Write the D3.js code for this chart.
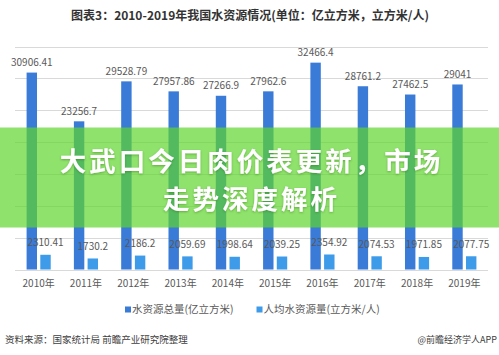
<!DOCTYPE html>
<html><head><meta charset="utf-8">
<script src="https://cdn.jsdelivr.net/npm/d3@7/dist/d3.min.js"></script>
<style>
html,body{margin:0;padding:0;background:#fff;}
svg{display:block;font-family:"Noto Sans CJK SC","Noto Sans",sans-serif;}
</style></head>
<body>
<script>
const years = ["2010年","2011年","2012年","2013年","2014年","2015年","2016年","2017年","2018年","2019年"];
const totalWater = [30906.41,23256.7,29528.79,27957.86,27266.9,27962.6,32466.4,28761.2,27462.5,29041];
const perCapita = [2310.41,1730.2,2186.2,2059.69,1998.64,2039.25,2354.92,2074.53,1971.85,2077.75];
const totalLabels = ["30906.41","23256.7","29528.79","27957.86","27266.9","27962.6","32466.4","28761.2","27462.5","29041"];
const perCapitaLabels = ["2310.41","1730.2","2186.2","2059.69","1998.64","2039.25","2354.92","2074.53","1971.85","2077.75"];
const seriesNames = ["水资源总量(亿立方米)","人均水资源量(立方米/人)"];
const seriesColors = ["#3a7bd8","#3d9be9"];
const yTicks = [0,5000,10000,15000,20000,25000,30000,35000];
const title = "图表3：2010-2019年我国水资源情况(单位：亿立方米，立方米/人)";
const source = "资料来源：国家统计局 前瞻产业研究院整理";
const credit = "@前瞻经济学人APP";
const bannerLines = ["大武口今日肉价表更新，市场","走势深度解析"];

const W = 499, H = 355;
const svg = d3.select("body").append("svg").attr("width",W).attr("height",H);
svg.append("rect").attr("width",W).attr("height",H).attr("fill","#fff");

const x0 = d3.scaleBand().domain(years).range([15,488]).paddingInner(0.49).paddingOuter(0.245);
const x1 = d3.scaleBand().domain([0,1]).range([0,x0.bandwidth()]).paddingInner(0.24);
const y = d3.scaleLinear().domain([0,35000]).range([269.5,46.5]);

// title
svg.append("text").attr("x",250).attr("y",20).attr("text-anchor","middle")
  .attr("font-size",12).attr("font-weight","bold").attr("fill","#333").text(title);

// gridlines
svg.append("g").selectAll("line").data(yTicks).join("line")
  .attr("x1",15).attr("x2",488)
  .attr("y1",d=>Math.round(y(d))+0.5).attr("y2",d=>Math.round(y(d))+0.5)
  .attr("stroke","#d9d9d9").attr("stroke-width",1);

const data = years.map((yr,i)=>({yr, vals:[totalWater[i],perCapita[i]], labs:[totalLabels[i],perCapitaLabels[i]]}));

const groups = svg.append("g").selectAll("g").data(data).join("g")
  .attr("transform",d=>`translate(${x0(d.yr)},0)`);

groups.selectAll("rect").data(d=>d.vals.map((v,k)=>({v,k}))).join("rect")
  .attr("x",d=>x1(d.k)).attr("width",x1.bandwidth())
  .attr("y",d=>y(d.v)).attr("height",d=>y(0)-y(d.v))
  .attr("fill",d=>seriesColors[d.k]);

groups.selectAll("text").data(d=>d.vals.map((v,k)=>({v,k,lab:d.labs[k]}))).join("text")
  .attr("x",d=>x1(d.k)+x1.bandwidth()/2)
  .attr("y",d=>y(d.v)-(d.k===0?6.5:8.5))
  .attr("text-anchor","middle").attr("font-size",10).attr("fill","#595959")
  .text(d=>d.lab);

// x axis labels
const xAxis = d3.axisBottom(x0).tickSize(0).tickPadding(10);
const xa = svg.append("g").attr("transform",`translate(0,${y(0)})`).call(xAxis);
xa.select(".domain").remove();
xa.selectAll("text").attr("font-size",10).attr("fill","#595959")
  .attr("font-family","\"Noto Sans CJK SC\",sans-serif");

// legend
const legX = [125,256.5];
const leg = svg.append("g").selectAll("g").data(seriesNames).join("g")
  .attr("transform",(d,i)=>`translate(${legX[i]},309.5)`);
leg.append("rect").attr("x",0).attr("y",-3).attr("width",6).attr("height",6).attr("fill",(d,i)=>seriesColors[i]);
leg.append("text").attr("x",7).attr("y",3.8).attr("font-size",10.5).attr("fill","#595959").text(d=>d);

// footer
svg.append("text").attr("x",5).attr("y",343).attr("font-size",9.5).attr("fill","#404040").text(source);
svg.append("text").attr("x",497).attr("y",343).attr("text-anchor","end").attr("font-size",9).attr("fill","#404040").text(credit);

// banner overlay
svg.append("rect").attr("x",0).attr("y",127.5).attr("width",W).attr("height",100)
  .attr("fill","rgb(96,214,45)").attr("fill-opacity",0.7);
const defs = svg.append("defs");
const f = defs.append("filter").attr("id","sh").attr("x","-10%").attr("y","-30%").attr("width","120%").attr("height","160%");
f.append("feDropShadow").attr("dx",0).attr("dy",1).attr("stdDeviation",1.2).attr("flood-color","#2a6a10").attr("flood-opacity",0.45);
svg.append("g").selectAll("text").data(bannerLines).join("text")
  .attr("x",251.5).attr("y",(d,i)=>170.5+i*38.5).attr("text-anchor","middle")
  .attr("font-size",26.5).attr("letter-spacing",3).attr("font-weight","bold").attr("fill","#fff")
  .attr("filter","url(#sh)").text(d=>d);
</script>
</body></html>
